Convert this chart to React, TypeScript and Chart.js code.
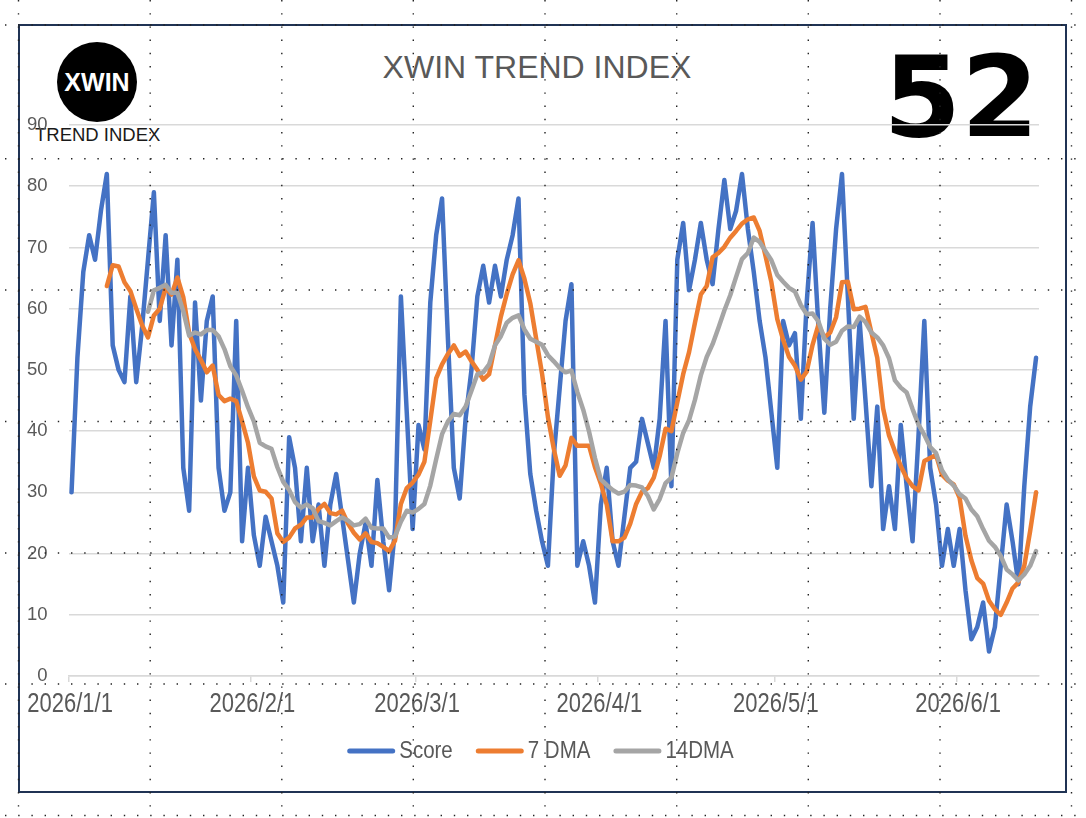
import { useEffect, useRef } from 'react';
import { Chart, registerables } from 'chart.js';

Chart.register(...registerables);

// ---------- data ----------
const chartTitle = 'XWIN TREND INDEX';
const logoText = 'XWIN';
const logoSubText = 'TREND INDEX';
const seriesNames = ['Score', '7 DMA', '14DMA'];
const seriesColors = ['#4472C4', '#ED7D31', '#A5A5A5'];
const startYear = 2026;
const startMonth = 1;
const startDay = 1;
const xTickLabels = ['2026/1/1', '2026/2/1', '2026/3/1', '2026/4/1', '2026/5/1', '2026/6/1'];
const yMin = 0;
const yMax = 90;
const yStep = 10;

// daily score, 2026/1/1 .. 2026/6/14
const score = [
  30, 52, 66, 72, 68, 76, 82, 54, 50, 48,
  62, 48, 57, 68, 79, 58, 72, 54, 68, 34,
  27, 61, 45, 58, 62, 34, 27, 30, 58, 22,
  34, 23, 18, 26, 22, 18, 12, 39, 34, 22,
  34, 22, 28, 18, 28, 33, 26, 19, 12, 20,
  25, 18, 32, 22, 14, 24, 62, 43, 24, 41,
  37, 61, 72, 78, 55, 34, 29, 42, 50, 62,
  67, 61, 67, 62, 68, 72, 78, 46, 33, 27,
  22, 18, 36, 47, 58, 64, 18, 22, 18, 12,
  28, 34, 22, 18, 26, 34, 35, 42, 38, 34,
  42, 58, 31, 68, 74, 63, 68, 74, 68, 64,
  73, 81, 73, 76, 82, 73, 66, 58, 52, 43,
  34, 58, 54, 56, 42, 61, 74, 57, 43, 60,
  73, 82, 62, 42, 58, 45, 31, 44, 24, 31,
  24, 41, 31, 22, 39, 58, 34, 28, 18, 24,
  18, 24, 14, 6, 8, 12, 4, 8, 18, 28,
  22, 15, 31, 44, 52,
];

// 7 DMA starts on day index 6 (2026/1/7)
const sevenDMAStart = 6;
const sevenDMA = [
  63.7, 67.1, 66.9, 64.3, 62.9, 60.0, 57.3, 55.3, 58.9, 60.0,
  63.4, 62.3, 65.1, 61.9, 56.0, 53.4, 51.6, 49.6, 50.7, 45.9,
  44.9, 45.3, 44.9, 41.6, 38.1, 32.6, 30.3, 30.1, 29.0, 23.3,
  21.9, 22.6, 24.1, 24.7, 25.9, 25.9, 27.3, 28.1, 26.6, 26.4,
  27.0, 24.9, 23.4, 22.3, 23.3, 21.9, 21.7, 21.1, 20.4, 22.1,
  28.1, 30.7, 31.6, 32.9, 35.0, 41.7, 48.6, 50.9, 52.6, 54.0,
  52.3, 53.0, 51.4, 50.0, 48.4, 49.3, 54.0, 58.7, 62.4, 65.6,
  67.9, 64.9, 60.9, 55.1, 49.4, 42.3, 37.1, 32.7, 34.4, 38.9,
  37.6, 37.6, 37.6, 34.1, 31.4, 28.0, 22.0, 22.0, 22.6, 24.9,
  28.1, 30.1, 30.7, 32.4, 35.9, 40.4, 40.0, 44.7, 49.3, 52.9,
  57.7, 62.3, 63.7, 68.4, 69.1, 70.1, 71.6, 72.7, 73.9, 74.6,
  74.9, 72.7, 68.6, 64.3, 58.3, 54.9, 52.1, 50.7, 48.4, 49.7,
  54.1, 57.4, 55.3, 56.1, 58.6, 64.3, 64.4, 59.9, 60.0, 60.3,
  56.1, 52.0, 43.7, 39.3, 36.7, 34.3, 32.3, 31.0, 30.3, 35.1,
  35.6, 36.1, 32.9, 31.9, 31.3, 29.1, 22.9, 18.9, 16.0, 15.1,
  12.3, 10.9, 10.0, 12.0, 14.3, 15.3, 18.0, 23.7, 30.0,
];

// 14 DMA starts on day index 13 (2026/1/14)
const fourteenDMAStart = 13;
const fourteenDMA = [
  59.5, 63.0, 63.4, 63.9, 62.6, 62.6, 59.6, 55.6, 56.1, 55.8,
  56.5, 56.5, 55.5, 53.4, 50.6, 49.1, 46.6, 43.9, 41.6, 38.1,
  37.5, 37.1, 34.1, 31.7, 30.4, 28.4, 27.5, 28.0, 27.4, 25.3,
  25.0, 24.6, 25.3, 25.9, 25.4, 24.6, 24.8, 25.7, 24.2, 24.1,
  24.1, 22.6, 22.8, 25.2, 27.0, 26.7, 27.3, 28.1, 31.1, 35.4,
  39.5, 41.6, 42.8, 42.6, 44.0, 46.6, 49.3, 49.6, 50.9, 54.0,
  55.5, 57.7, 58.5, 58.9, 56.6, 55.1, 54.6, 54.1, 52.4, 51.4,
  50.3, 49.6, 49.9, 46.4, 43.5, 39.9, 35.6, 32.1, 31.2, 30.4,
  29.8, 30.1, 31.2, 31.1, 30.8, 29.4, 27.2, 28.9, 31.5, 32.4,
  36.4, 39.7, 41.8, 45.1, 49.1, 52.1, 54.2, 56.9, 59.7, 62.2,
  65.2, 68.1, 69.1, 71.6, 70.9, 69.4, 67.9, 65.5, 64.4, 63.4,
  62.8, 60.6, 59.1, 59.2, 57.9, 55.1, 54.1, 54.6, 56.4, 57.1,
  57.0, 58.7, 57.8, 56.1, 55.3, 54.0, 51.9, 48.3, 47.1, 46.3,
  43.6, 41.1, 39.4, 37.4, 36.4, 33.6, 32.1, 31.1, 29.7, 29.0,
  27.2, 26.1, 24.0, 22.1, 21.1, 19.6, 17.4, 16.6, 15.6, 16.6,
  18.0, 20.4,
];

// ---------- styling ----------
const W = 1086;
const H = 818;
const SANS = "'Liberation Sans', Arial, sans-serif";
const TEXT_GRAY = '#595959';
const GRID = '#d9d9d9';
const dotCols = [18.5, 150.2, 281.8, 413.3, 545, 676.7, 808.3, 940, 1071.5];
const dotRows = [25, 158.7, 290, 421.5, 553, 684, 815.5];

// condensed-look text (narrow UI font in the original)
const X_LABEL_SIZE = 27.5;
const X_LABEL_SQUEEZE = 0.8;
const X_LABEL_BASELINE = 711.5;
const LEGEND_SIZE = 23.3;
const LEGEND_SQUEEZE = 0.88;
const LEGEND_CENTER_X = 540.5;
const LEGEND_LINE_Y = 751;
const LEGEND_BASELINE = 758.3;
const LEGEND_SWATCH = 48;
const LEGEND_SWATCH_GAP = 4;
const LEGEND_ITEM_GAP = 23;

export default function App() {
  const canvasRef = useRef<HTMLCanvasElement>(null);

  useEffect(() => {
    const dates = score.map((_, i) => {
      const d = new Date(Date.UTC(startYear, startMonth - 1, startDay + i));
      return `${d.getUTCFullYear()}/${d.getUTCMonth() + 1}/${d.getUTCDate()}`;
    });
    const tickValues = xTickLabels.map((l) => dates.indexOf(l));
    // each day occupies one unit; the point sits in the middle of its day
    const toPoints = (vals: number[], start: number) =>
      vals.map((v, i) => ({ x: start + i + 0.5, y: v }));

    const lineStyle = {
      borderWidth: 4.5,
      pointRadius: 0,
      pointHoverRadius: 0,
      tension: 0,
      borderJoinStyle: 'round' as const,
      borderCapStyle: 'round' as const,
      fill: false,
    };

    const condensedText = {
      id: 'condensedText',
      afterDraw(chart: any) {
        const ctx: CanvasRenderingContext2D = chart.ctx;
        const xs = chart.scales.x;
        ctx.save();
        ctx.fillStyle = TEXT_GRAY;
        ctx.textBaseline = 'alphabetic';
        // x tick labels
        ctx.font = `${X_LABEL_SIZE}px ${SANS}`;
        ctx.textAlign = 'center';
        xs.ticks.forEach((t: any) => {
          const px = xs.getPixelForValue(t.value);
          ctx.save();
          ctx.translate(px + 1.5, X_LABEL_BASELINE);
          ctx.scale(X_LABEL_SQUEEZE, 1);
          ctx.fillText(dates[t.value], 0, 0);
          ctx.restore();
        });
        // legend
        ctx.font = `${LEGEND_SIZE}px ${SANS}`;
        ctx.textAlign = 'left';
        const items = chart.data.datasets.map((ds: any) => ({
          label: ds.label as string,
          color: ds.borderColor as string,
          textW: ctx.measureText(ds.label).width * LEGEND_SQUEEZE,
        }));
        const total =
          items.reduce((s: number, it: any) => s + LEGEND_SWATCH + LEGEND_SWATCH_GAP + it.textW, 0) +
          LEGEND_ITEM_GAP * (items.length - 1);
        let x = LEGEND_CENTER_X - total / 2;
        items.forEach((it: any) => {
          ctx.strokeStyle = it.color;
          ctx.lineWidth = 5;
          ctx.lineCap = 'round';
          ctx.beginPath();
          ctx.moveTo(x + 2.5, LEGEND_LINE_Y);
          ctx.lineTo(x + LEGEND_SWATCH - 2.5, LEGEND_LINE_Y);
          ctx.stroke();
          x += LEGEND_SWATCH + LEGEND_SWATCH_GAP;
          ctx.save();
          ctx.translate(x, LEGEND_BASELINE);
          ctx.scale(LEGEND_SQUEEZE, 1);
          ctx.fillText(it.label, 0, 0);
          ctx.restore();
          x += it.textW + LEGEND_ITEM_GAP;
        });
        ctx.restore();
      },
    };

    const chart = new Chart(canvasRef.current!, {
      type: 'line',
      data: {
        datasets: [
          { label: seriesNames[0], data: toPoints(score, 0), borderColor: seriesColors[0], backgroundColor: seriesColors[0], order: 3, ...lineStyle },
          { label: seriesNames[1], data: toPoints(sevenDMA, sevenDMAStart), borderColor: seriesColors[1], backgroundColor: seriesColors[1], order: 2, ...lineStyle },
          { label: seriesNames[2], data: toPoints(fourteenDMA, fourteenDMAStart), borderColor: seriesColors[2], backgroundColor: seriesColors[2], order: 1, ...lineStyle },
        ],
      },
      options: {
        responsive: false,
        animation: false,
        events: [],
        layout: { padding: { top: 125, right: 47, left: 0, bottom: 0 } },
        plugins: {
          legend: { display: false },
          tooltip: { enabled: false },
          title: { display: false },
        },
        scales: {
          x: {
            type: 'linear',
            min: 0,
            max: dates.length,
            afterBuildTicks: (s: any) => {
              s.ticks = tickValues.map((v) => ({ value: v }));
            },
            afterFit: (s: any) => {
              s.height = 142;
            },
            ticks: {
              display: false,
              autoSkip: false,
              maxRotation: 0,
              minRotation: 0,
              callback: (v: any) => dates[Number(v)] ?? '',
            },
            grid: {
              drawOnChartArea: false,
              drawTicks: true,
              tickLength: 6,
              color: GRID,
              lineWidth: 1.5,
            },
            border: { display: true, color: GRID, width: 1.5 },
          },
          y: {
            min: yMin,
            max: yMax,
            afterFit: (s: any) => {
              s.width = 68.6;
            },
            ticks: {
              stepSize: yStep,
              padding: 21,
              color: TEXT_GRAY,
              font: { family: SANS, size: 18.5 },
            },
            grid: { color: GRID, lineWidth: 1.5, drawTicks: false },
            border: { display: false },
          },
        },
      },
      plugins: [condensedText],
    });
    return () => chart.destroy();
  }, []);

  const lastValue = score[score.length - 1];

  return (
    <div style={{ position: 'absolute', left: 0, top: 0, width: W, height: H, background: '#fff', overflow: 'hidden' }}>
      {/* chart frame */}
      <div
        style={{
          position: 'absolute',
          left: 18,
          top: 24,
          width: 1049,
          height: 769,
          boxSizing: 'border-box',
          border: '2px solid #203354',
          background: '#fff',
        }}
      />
      {/* logo */}
      <div
        style={{
          position: 'absolute',
          left: 57,
          top: 42,
          width: 80,
          height: 80,
          borderRadius: '50%',
          background: '#000',
          display: 'flex',
          alignItems: 'center',
          justifyContent: 'center',
          color: '#fff',
          font: `bold 25px ${SANS}`,
          lineHeight: 1,
        }}
      >
        {logoText}
      </div>
      <div style={{ position: 'absolute', left: 35, top: 126, font: `18.5px ${SANS}`, lineHeight: 1, color: '#1a1a1a', whiteSpace: 'nowrap' }}>
        {logoSubText}
      </div>
      {/* title */}
      <div
        style={{
          position: 'absolute',
          left: 537,
          top: 51,
          transform: 'translateX(-50%)',
          font: `32px ${SANS}`,
          lineHeight: 1,
          color: TEXT_GRAY,
          whiteSpace: 'nowrap',
        }}
      >
        {chartTitle}
      </div>
      {/* latest value */}
      <div
        style={{
          position: 'absolute',
          right: W - 1039,
          top: 40.5,
          font: `bold 112px 'DejaVu Sans', sans-serif`,
          lineHeight: 1,
          color: '#000',
          whiteSpace: 'nowrap',
        }}
      >
        {lastValue}
      </div>
      <canvas
        ref={canvasRef}
        width={W}
        height={H}
        style={{ position: 'absolute', left: 0, top: 0, width: W, height: H }}
      />
      {/* sheet page gridlines (dotted) */}
      <svg width={W} height={H} style={{ position: 'absolute', left: 0, top: 0, pointerEvents: 'none' }}>
        {dotCols.map((x) => (
          <line key={'c' + x} x1={x} y1={0} x2={x} y2={H} stroke="#222" strokeWidth={1.4} strokeDasharray="1.4 11.8" />
        ))}
        {dotRows.map((y) => (
          <line key={'r' + y} x1={5} y1={y} x2={W} y2={y} stroke="#222" strokeWidth={1.4} strokeDasharray="1.4 11.8" />
        ))}
      </svg>
    </div>
  );
}
